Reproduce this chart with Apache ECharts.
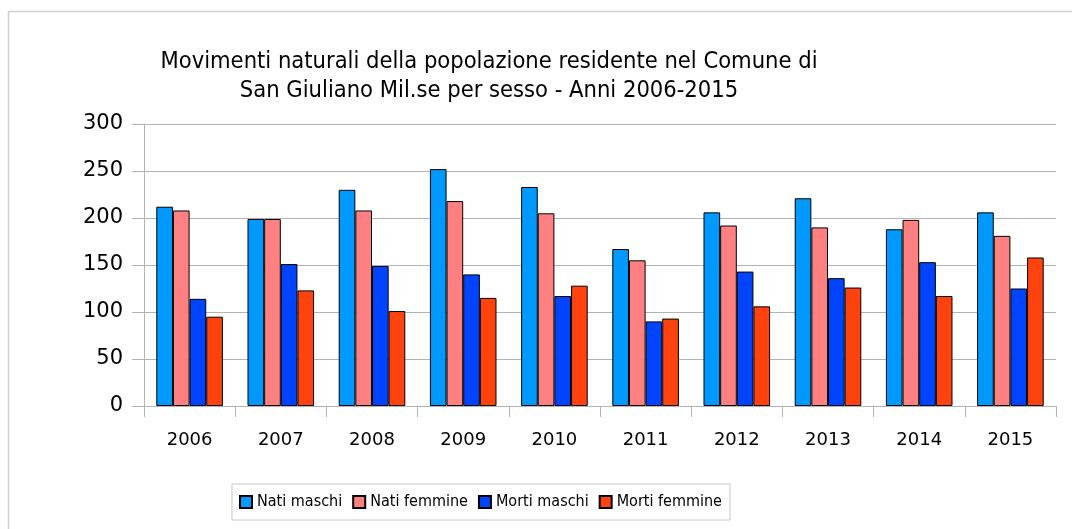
<!DOCTYPE html>
<html>
<head>
<meta charset="utf-8">
<script src="https://cdn.jsdelivr.net/npm/echarts@6/dist/echarts.min.js"></script>
<style>
  html, body { margin: 0; padding: 0; background: #fff; }
  #main { width: 1072px; height: 529px; }
</style>
</head>
<body>
<div id="main"></div>
<script>
var anni = ['2006', '2007', '2008', '2009', '2010', '2011', '2012', '2013', '2014', '2015'];
var natiMaschi   = [212, 199, 230, 252, 233, 167, 206, 221, 188, 206];
var natiFemmine  = [208, 199, 208, 218, 205, 155, 192, 190, 198, 181];
var mortiMaschi  = [114, 151, 149, 140, 117,  90, 143, 136, 153, 125];
var mortiFemmine = [ 95, 123, 101, 115, 128,  93, 106, 126, 117, 158];
var yTicks = [0, 50, 100, 150, 200, 250, 300];

var nomi = ['Nati maschi', 'Nati femmine', 'Morti maschi', 'Morti femmine'];
var colori = ['#0099ff', '#ff8080', '#0044ff', '#ff420e'];
var valori = [natiMaschi, natiFemmine, mortiMaschi, mortiFemmine];

var chart = echarts.init(document.getElementById('main'));

var font = 'DejaVu Sans';
var fontCond = '"DejaVu Sans Condensed", "DejaVu Sans"';

chart.setOption({
        animation: false,
        backgroundColor: '#fff',
        graphic: [{
                type: 'rect',
                shape: { x: 8.5, y: 11.5, width: 1200, height: 700 },
                style: { fill: 'none', stroke: '#cfcfcf', lineWidth: 1.5 },
                silent: true
        }],
        title: {
                text: 'Movimenti naturali della popolazione residente nel Comune di\nSan Giuliano Mil.se per sesso - Anni 2006-2015',
                left: 484,
                top: 42,
                textAlign: 'center',
                textStyle: {
                        fontFamily: fontCond,
                        fontSize: 23.5,
                        fontWeight: 'normal',
                        color: '#000',
                        lineHeight: 29
                }
        },
        legend: {
                data: nomi,
                icon: 'rect',
                left: 232,
                top: 484,
                padding: [10, 8, 10, 7],
                itemWidth: 12,
                itemHeight: 12,
                itemGap: 10,
                borderColor: '#c8c8c8',
                borderWidth: 1,
                textStyle: { fontFamily: fontCond, fontSize: 16, color: '#000' }
        },
        grid: {
                left: 144,
                right: 16,
                top: 124,
                bottom: 123,
                containLabel: false
        },
        xAxis: {
                type: 'category',
                data: anni,
                axisLine: { show: true, lineStyle: { color: '#b3b3b3', width: 1 } },
                axisTick: { show: true, length: 11, lineStyle: { color: '#b3b3b3' } },
                axisLabel: { margin: 25, fontFamily: font, fontSize: 18, color: '#000' },
                splitLine: { show: false }
        },
        yAxis: {
                type: 'value',
                min: yTicks[0],
                max: yTicks[yTicks.length - 1],
                interval: 50,
                axisLine: { show: true, lineStyle: { color: '#b3b3b3', width: 1 } },
                axisTick: { show: true, length: 12, lineStyle: { color: '#b3b3b3' } },
                axisLabel: { margin: 21, fontFamily: font, fontSize: 21, color: '#000', padding: [5, 0, 0, 0] },
                splitLine: { show: true, lineStyle: { color: '#b3b3b3', width: 1 } }
        },
        series: nomi.map(function (nome, i) {
                return {
                        name: nome,
                        type: 'bar',
                        data: valori[i],
                        barGap: '0%',
                        barCategoryGap: '27%',
                        itemStyle: {
                                color: colori[i],
                                borderColor: '#000',
                                borderWidth: 1
                        }
                };
        })
});
</script>
</body>
</html>
